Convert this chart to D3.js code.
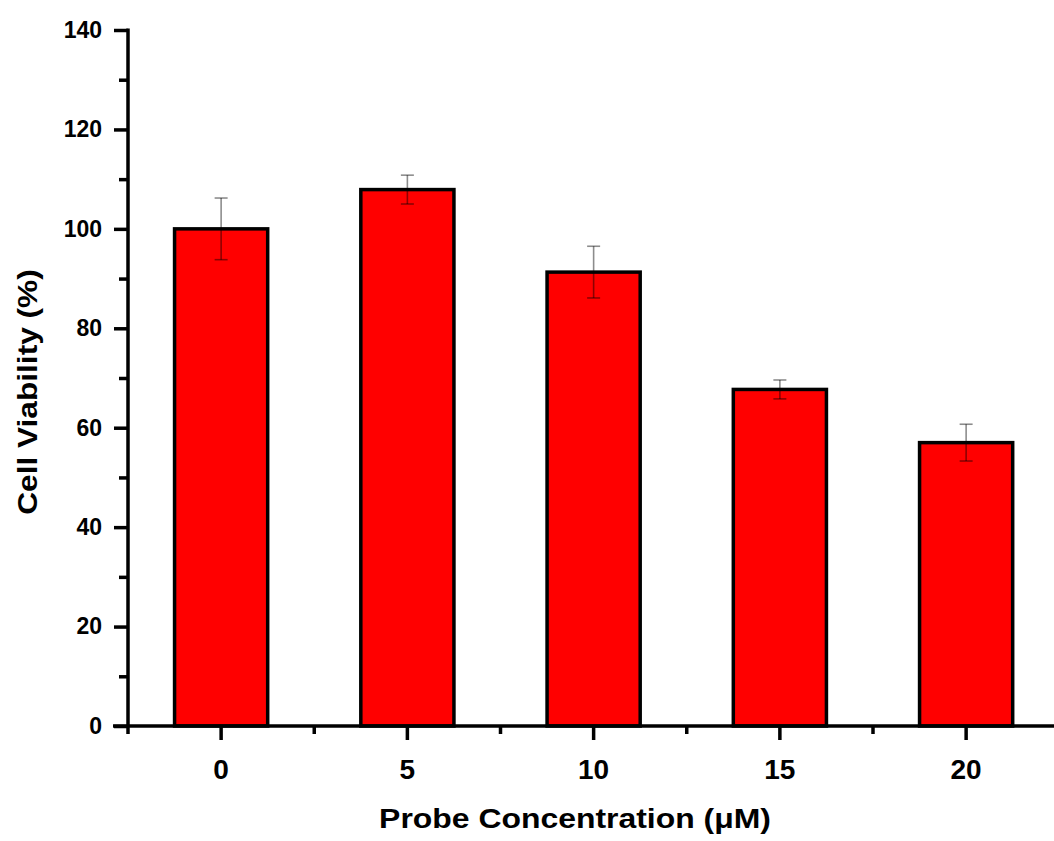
<!DOCTYPE html>
<html>
<head>
<meta charset="utf-8">
<script src="https://cdn.jsdelivr.net/npm/d3@7"></script>
<style>
  html, body { margin: 0; padding: 0; background: #fff; }
  svg { display: block; }
  text { font-family: "Liberation Sans", Arial, sans-serif; font-weight: bold; fill: #000; }
</style>
</head>
<body>
<svg id="chart" width="1054" height="841"></svg>
<script>
const categories = ["0", "5", "10", "15", "20"];
const viability = [100, 107.9, 91.3, 67.7, 57.0];
const errors = [6.2, 2.9, 5.2, 1.9, 3.7];
const yMajorTicks = [0, 20, 40, 60, 80, 100, 120, 140];
const yMinorTicks = [10, 30, 50, 70, 90, 110, 130];
const xTitle = "Probe Concentration (\u03bcM)";
const yTitle = "Cell Viability (%)";

(function () {
const svg = d3.select("#chart");
const pLeft = 128, pRight = 1059.25, pTop = 30, pBottom = 726;

const x = d3.scaleBand().domain(categories).range([pLeft, pRight])
  .paddingInner(0.5).paddingOuter(0.25);
const y = d3.scaleLinear().domain([0, 140]).range([pBottom, pTop]);

// bars
svg.append("g").selectAll("rect").data(categories).join("rect")
  .attr("x", d => x(d))
  .attr("y", (d, i) => y(viability[i]))
  .attr("width", x.bandwidth())
  .attr("height", (d, i) => y(0) - y(viability[i]))
  .attr("fill", "#ff0000")
  .attr("stroke", "#000")
  .attr("stroke-width", 3.5);

// error bars
const eg = svg.append("g").attr("stroke", "#000").attr("stroke-opacity", 0.45).attr("stroke-width", 1.6);
categories.forEach((c, i) => {
  const cx = x(c) + x.bandwidth() / 2;
  const hi = y(viability[i] + errors[i]), lo = y(viability[i] - errors[i]);
  eg.append("line").attr("x1", cx).attr("x2", cx).attr("y1", hi).attr("y2", lo);
  eg.append("line").attr("x1", cx - 6.5).attr("x2", cx + 6.5).attr("y1", hi).attr("y2", hi);
  eg.append("line").attr("x1", cx - 6.5).attr("x2", cx + 6.5).attr("y1", lo).attr("y2", lo);
});

// y axis
const yAxis = svg.append("g").attr("transform", `translate(${pLeft},0)`)
  .call(d3.axisLeft(y).tickValues(yMajorTicks).tickSize(14).tickPadding(12).tickFormat(d3.format("d")));
yAxis.select(".domain").remove();
yAxis.selectAll(".tick line").attr("stroke-width", 3.5);
yAxis.selectAll(".tick text").style("font-size", "23px");

const yMinor = svg.append("g").attr("transform", `translate(${pLeft},0)`)
  .call(d3.axisLeft(y).tickValues(yMinorTicks).tickSize(9).tickFormat(""));
yMinor.select(".domain").remove();
yMinor.selectAll(".tick line").attr("stroke-width", 3.5);

svg.append("line").attr("x1", pLeft).attr("x2", pLeft).attr("y1", pTop - 1.5).attr("y2", pBottom)
  .attr("stroke", "#000").attr("stroke-width", 3.5);

// x axis
const xAxis = svg.append("g").attr("transform", `translate(0,${pBottom})`)
  .call(d3.axisBottom(x).tickSize(14).tickPadding(19));
xAxis.select(".domain").remove();
xAxis.selectAll(".tick line").attr("stroke-width", 3.5);
xAxis.selectAll(".tick text").style("font-size", "28px");

const boundaries = d3.range(categories.length + 1).map(i => pLeft + i * x.step());
svg.append("g").selectAll("line").data(boundaries).join("line")
  .attr("x1", d => d).attr("x2", d => d)
  .attr("y1", pBottom).attr("y2", pBottom + 8)
  .attr("stroke", "#000").attr("stroke-width", 3.5);

svg.append("line").attr("x1", pLeft - 15).attr("x2", pRight + 5).attr("y1", pBottom).attr("y2", pBottom)
  .attr("stroke", "#000").attr("stroke-width", 3.5);

// titles
svg.append("text").attr("transform", "translate(575,828) scale(1.14,1)").attr("text-anchor", "middle")
  .style("font-size", "28px").text(xTitle);
svg.append("text").attr("transform", "translate(37,392) rotate(-90) scale(1.13,1)").attr("text-anchor", "middle")
  .style("font-size", "28px").text(yTitle);
})();
</script>
</body>
</html>
